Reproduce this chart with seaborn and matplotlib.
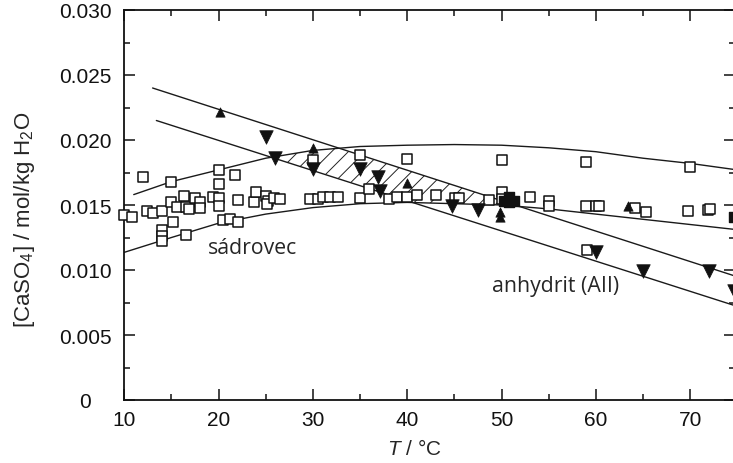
import numpy as np
import pandas as pd
import matplotlib
matplotlib.use('Agg')
from matplotlib import pyplot as plt
from matplotlib.ticker import FuncFormatter
import seaborn as sns

sns.set_style('ticks')
plt.rcParams['font.family'] = ['Liberation Sans', 'DejaVu Sans']
plt.rcParams['mathtext.fontset'] = 'custom'
plt.rcParams['mathtext.rm'] = 'Liberation Sans'
plt.rcParams['mathtext.it'] = 'Liberation Sans:italic'
plt.rcParams['hatch.linewidth'] = 0.7

# krivky rozpustnosti
gyp_hi_T = [11, 15, 20, 25, 30, 35, 40, 45, 50, 55, 60, 65, 70, 75]
gyp_hi_c = [0.0158, 0.0168, 0.0177, 0.0186, 0.0192, 0.0195, 0.0196, 0.01965, 0.0196, 0.0194, 0.0191, 0.0186, 0.0182, 0.0177]
gyp_lo_T = [10, 15, 20, 25, 30, 35, 40, 45, 50, 55, 60, 65, 70, 75]
gyp_lo_c = [0.01136, 0.0125, 0.0136, 0.0143, 0.0148, 0.0151, 0.0152, 0.0151, 0.0150, 0.0147, 0.0143, 0.0139, 0.0135, 0.0131]
anh_hi_T = [13, 75]
anh_hi_c = [0.0240, 0.00948]
anh_lo_T = [13.4, 75]
anh_lo_c = [0.0215, 0.0072]

# sadrovec - otevrene ctverce
sq_T = [10.0, 10.8, 12.0, 12.4, 13.0, 14.0, 14.0, 14.0, 14.0, 15.0, 15.0, 15.2, 15.6, 16.3, 16.5, 16.5,
        16.9, 17.5, 18.0, 18.0, 19.4, 20.0, 20.0, 20.0, 20.0, 20.5, 21.2, 21.7, 22.1, 22.1, 23.8, 24.0,
        25.0, 25.2, 25.1, 25.9, 26.5, 29.7, 30.0, 30.5, 31.1, 31.8, 32.7, 35.0, 35.0, 36.0, 38.1, 38.9,
        40.0, 40.0, 41.0, 43.0, 45.1, 45.5, 48.7, 50.0, 50.0, 50.0, 53.0, 55.0, 55.0, 59.0, 59.0, 60.0,
        60.3, 59.1, 64.2, 65.3, 69.8, 70.0, 71.9, 72.1]
sq_c = [0.0142, 0.01405, 0.01713, 0.01456, 0.01438, 0.01456, 0.01308, 0.01259, 0.01226, 0.01675, 0.01526,
        0.01372, 0.01482, 0.01572, 0.01482, 0.01269, 0.01469, 0.01551, 0.01526, 0.01474, 0.01564, 0.01772,
        0.01662, 0.01551, 0.01495, 0.01387, 0.01392, 0.01731, 0.01541, 0.01372, 0.0152, 0.01597, 0.01572,
        0.01533, 0.01508, 0.01551, 0.01546, 0.01546, 0.01846, 0.01546, 0.01559, 0.01564, 0.01559, 0.01551,
        0.01888, 0.01623, 0.01546, 0.01559, 0.01854, 0.01559, 0.01577, 0.01577, 0.01551, 0.01551, 0.01541,
        0.01846, 0.01602, 0.01546, 0.01559, 0.01533, 0.0149, 0.01828, 0.01495, 0.01495, 0.01495, 0.01156,
        0.01474, 0.01449, 0.01451, 0.01795, 0.01464, 0.01470]

# plne ctverce
fsq_T = [50.3, 50.8, 51.3, 50.8, 74.6]
fsq_c = [0.0153, 0.0152, 0.0153, 0.0156, 0.0141]

# anhydrit - trojuhelniky
up_T = [20.1, 30.0, 40.0, 49.8, 49.8, 63.4]
up_c = [0.02213, 0.01936, 0.01668, 0.01444, 0.01405, 0.0149]
dn_T = [25.0, 26.0, 30.0, 35.0, 36.9, 37.1, 44.8, 47.5, 60.0, 65.0, 72.0, 74.7]
dn_c = [0.0202, 0.0186, 0.0178, 0.01777, 0.01713, 0.0161, 0.0149, 0.0146, 0.01136, 0.00995, 0.00995, 0.0084]

fig = plt.figure(figsize=(7.33, 4.64), dpi=100)
ax = fig.add_axes([124.3 / 733, 63 / 464, (735.4 - 124.3) / 733, 390 / 464])

# srafovana oblast (prekryv pasu)
tt = np.linspace(10, 75, 600)
hi = np.minimum(np.interp(tt, anh_hi_T, anh_hi_c), np.interp(tt, gyp_hi_T, gyp_hi_c))
lo = np.maximum(np.interp(tt, anh_lo_T, anh_lo_c), np.interp(tt, gyp_lo_T, gyp_lo_c))
ax.fill_between(tt, lo, hi, where=hi > lo, interpolate=True, facecolor='none',
                edgecolor='#222222', hatch='//', linewidth=0)

for xs, ys in [(gyp_hi_T, gyp_hi_c), (gyp_lo_T, gyp_lo_c), (anh_hi_T, anh_hi_c), (anh_lo_T, anh_lo_c)]:
    sns.lineplot(x=xs, y=ys, ax=ax, color='#1a1a1a', lw=1.0, sort=False, estimator=None)

sns.scatterplot(x=sq_T, y=sq_c, ax=ax, marker='s', s=42, facecolor='white', edgecolor='#111111', linewidth=1.1, clip_on=False, zorder=3)
sns.scatterplot(x=fsq_T, y=fsq_c, ax=ax, marker='s', s=60, color='#111111', edgecolor='#111111', linewidth=1, zorder=4)
sns.scatterplot(x=up_T, y=up_c, ax=ax, marker='^', s=45, color='#111111', edgecolor='#111111', linewidth=0.5, zorder=5)
sns.scatterplot(x=dn_T, y=dn_c, ax=ax, marker='v', s=95, color='#111111', edgecolor='#111111', linewidth=0.5, zorder=5)

ax.text(18.9, 0.0117, 'sádrovec', fontsize=15.3, family=['Open Sans', 'DejaVu Sans'], va='center')
ax.text(49.0, 0.0088, 'anhydrit (AII)', fontsize=15.3, family=['Open Sans', 'DejaVu Sans'], va='center')

ax.set_xlim(10, 74.8)
ax.set_ylim(0, 0.030)
ax.set_xticks(range(10, 71, 10))
ax.set_xticks(range(15, 75, 10), minor=True)
ax.set_yticks(np.arange(0, 0.0301, 0.005))
ax.set_yticks(np.arange(0.0025, 0.03, 0.005), minor=True)
ax.yaxis.set_major_formatter(FuncFormatter(lambda v, p: '0' if abs(v) < 1e-9 else f'{v:.3f}'))
ax.tick_params(which='both', direction='in', top=True, right=True, width=1.1, labelsize=15, colors='#111111')
ax.tick_params(which='major', length=8)
ax.tick_params(which='minor', length=4.5)
ax.tick_params(axis='x', pad=7)
ax.tick_params(axis='y', pad=28)
for lab in ax.get_yticklabels():
    lab.set_horizontalalignment('center')
for sp in ax.spines.values():
    sp.set_linewidth(1.3)
    sp.set_color('#111111')

ax.set_xlabel('$T$ / °C', fontsize=15)
ax.set_ylabel('[CaSO$_4$] / mol/kg H$_2$O', fontsize=16)
ax.xaxis.set_label_coords(0.474, -0.097)
ax.yaxis.set_label_coords(-0.143, 0.464)

fig.savefig('out.png', dpi=100)
